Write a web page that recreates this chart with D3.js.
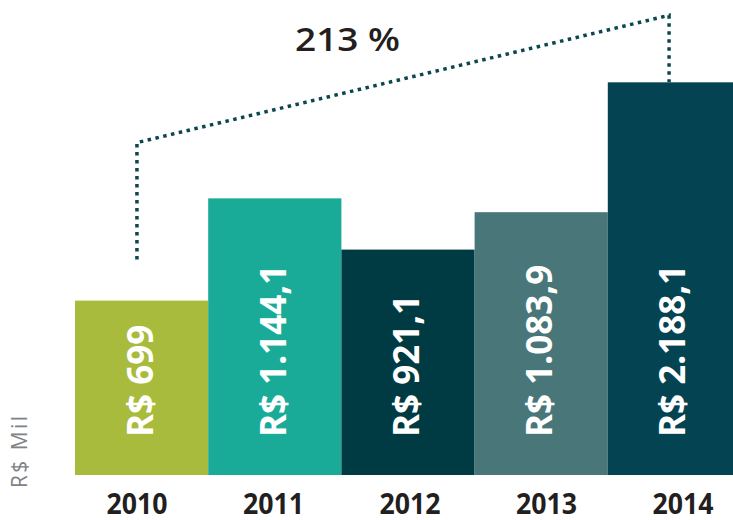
<!DOCTYPE html>
<html>
<head>
<meta charset="utf-8">
<script src="https://cdn.jsdelivr.net/npm/d3@7"></script>
<style>
  html, body { margin: 0; padding: 0; background: #ffffff; }
  svg { display: block; }
</style>
</head>
<body>
<svg id="chart" width="733" height="520"></svg>
<script>
// ---- data ----
const years = ["2010", "2011", "2012", "2013", "2014"];
const values = [699, 1144.1, 921.1, 1083.9, 2188.1];
const valueLabels = ["R$ 699", "R$ 1.144,1", "R$ 921,1", "R$ 1.083,9", "R$ 2.188,1"];
const barColors = ["#a9bb3c", "#19ab98", "#003a42", "#497679", "#044352"];
const growthLabel = "213 %";
const unitLabel = "R$ Mil";

// ---- layout ----
const baseY = 475;
const svg = d3.select("#chart");

const x = d3.scaleBand().domain(years).range([75, 741]).padding(0);
const xLabel = d3.scalePoint().domain(years).range([137, 683]);
// broken (piecewise) value scale: linear up to 1150, compressed above
const y = d3.scaleLinear().domain([-60, 1150, 2200]).range([baseY, 197, 81]);

// bars
svg.append("g").selectAll("rect")
  .data(years)
  .join("rect")
  .attr("x", d => x(d))
  .attr("y", (d, i) => y(values[i]))
  .attr("width", x.bandwidth())
  .attr("height", (d, i) => baseY - y(values[i]))
  .attr("fill", (d, i) => barColors[i]);

// value labels (rotated, white)
svg.append("g").selectAll("text")
  .data(years)
  .join("text")
  .attr("transform", d => `translate(${x(d) + x.bandwidth() / 2 + 11},${baseY - 38}) rotate(-90)`)
  .attr("text-anchor", "start")
  .attr("fill", "#ffffff")
  .attr("font-family", "'Open Sans', sans-serif")
  .attr("font-weight", 700)
  .attr("font-size", 35)
  .text((d, i) => valueLabels[i]);

// year labels
svg.append("g").selectAll("text")
  .data(years)
  .join("text")
  .attr("x", d => xLabel(d))
  .attr("y", 514)
  .attr("text-anchor", "middle")
  .attr("fill", "#231f20")
  .attr("font-family", "'Open Sans', sans-serif")
  .attr("font-weight", 700)
  .attr("font-size", 29)
  .attr("textLength", 61)
  .attr("lengthAdjust", "spacingAndGlyphs")
  .text(d => d);

// unit label
svg.append("text")
  .attr("transform", `translate(27,488) rotate(-90)`)
  .attr("text-anchor", "start")
  .attr("fill", "#808285")
  .attr("font-family", "'Open Sans', sans-serif")
  .attr("font-size", 21)
  .attr("textLength", 72)
  .text(unitLabel);

// growth annotation (dotted bracket)
const first = years[0], last = years[years.length - 1];
const lx = x(first) + x.bandwidth() * 0.465;
const rx = x(last) + x.bandwidth() * 0.46;
const path = d3.path();
path.moveTo(lx, y(values[0]) - 41);
path.lineTo(lx, y(values[0]) - 158);
path.lineTo(rx, y(values[values.length - 1]) - 67);
path.lineTo(rx, y(values[values.length - 1]));
svg.append("path")
  .attr("d", path.toString())
  .attr("fill", "none")
  .attr("stroke", "#0b474f")
  .attr("stroke-width", 3.5)
  .attr("stroke-dasharray", "3.5,4.5");

svg.append("text")
  .attr("x", 347.5)
  .attr("y", 51)
  .attr("text-anchor", "middle")
  .attr("fill", "#231f20")
  .attr("font-family", "'Open Sans', sans-serif")
  .attr("font-weight", 600)
  .attr("font-size", 32)
  .attr("textLength", 105)
  .attr("lengthAdjust", "spacingAndGlyphs")
  .text(growthLabel);
</script>
</body>
</html>
